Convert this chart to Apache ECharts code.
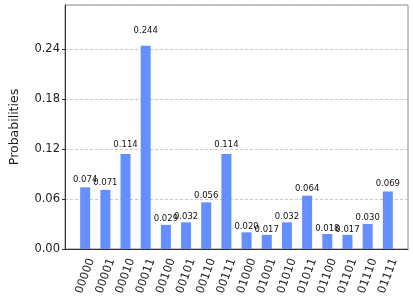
<!DOCTYPE html>
<html><head><meta charset="utf-8">
<script src="https://cdn.jsdelivr.net/npm/echarts@6/dist/echarts.min.js"></script>
<style>html,body{margin:0;padding:0;background:#fff}#c{width:413px;height:301px}</style>
</head><body><div id="c"></div>
<script>
const categories = ['00000','00001','00010','00011','00100','00101','00110','00111','01000','01001','01010','01011','01100','01101','01110','01111'];
const probabilities = [0.074,0.071,0.114,0.244,0.029,0.032,0.056,0.114,0.020,0.017,0.032,0.064,0.018,0.017,0.030,0.069];
const valueLabels = ['0.074','0.071','0.114','0.244','0.029','0.032','0.056','0.114','0.020','0.017','0.032','0.064','0.018','0.017','0.030','0.069'];
const yTicks = [0, 0.06, 0.12, 0.18, 0.24];

const yMax = Math.max(...probabilities) * 1.2;
const plotH = 301 - 5 - 52;
const pxPerUnit = plotH / yMax;
const font = 'DejaVu Sans';

const chart = echarts.init(document.getElementById('c'), null, {renderer:'canvas'});
chart.setOption({
  animation:false,
  grid:{left:56,right:5,top:5,bottom:52,show:true,borderColor:'#888',borderWidth:1},
  xAxis:{
    type:'value', min:-1, max:16, interval:1,
    splitLine:{show:false},
    axisLine:{show:true,onZero:false,lineStyle:{color:'#333',width:1}},
    axisTick:{show:false},
    axisLabel:{
      formatter:(v)=> (v>=0 && v<categories.length) ? categories[v] : '',
      rotate:70, align:'center', verticalAlign:'middle', margin:27,
      fontFamily:font, fontSize:11.5, color:'#222'
    }
  },
  yAxis:{
    type:'value', min:0, max:yMax, interval:0.06,
    name:'Probabilities', nameLocation:'middle', nameGap:44,
    nameTextStyle:{fontFamily:font,fontSize:12.5,color:'#222'},
    axisLine:{show:true,onZero:false,lineStyle:{color:'#333',width:1}},
    axisTick:{show:true,length:3,lineStyle:{color:'#333'}},
    axisLabel:{showMaxLabel:false,formatter:(v)=> yTicks.some(t=>Math.abs(t-v)<1e-9) ? v.toFixed(2) : '',
      fontFamily:font,fontSize:11.5,color:'#222',margin:5},
    splitLine:{show:true,lineStyle:{color:'#bbb',type:[3,2],width:0.8}}
  },
  series:[{
    type:'bar',
    barWidth:10,
    itemStyle:{color:'#648fff'},
    data: probabilities.map((p,i)=>({
      value:[i,p],
      label:{show:true,position:'top',distance:0.05*p*pxPerUnit,
        formatter:valueLabels[i],fontFamily:font,fontSize:8.5,color:'#111'}
    }))
  }]
});
</script></body></html>
